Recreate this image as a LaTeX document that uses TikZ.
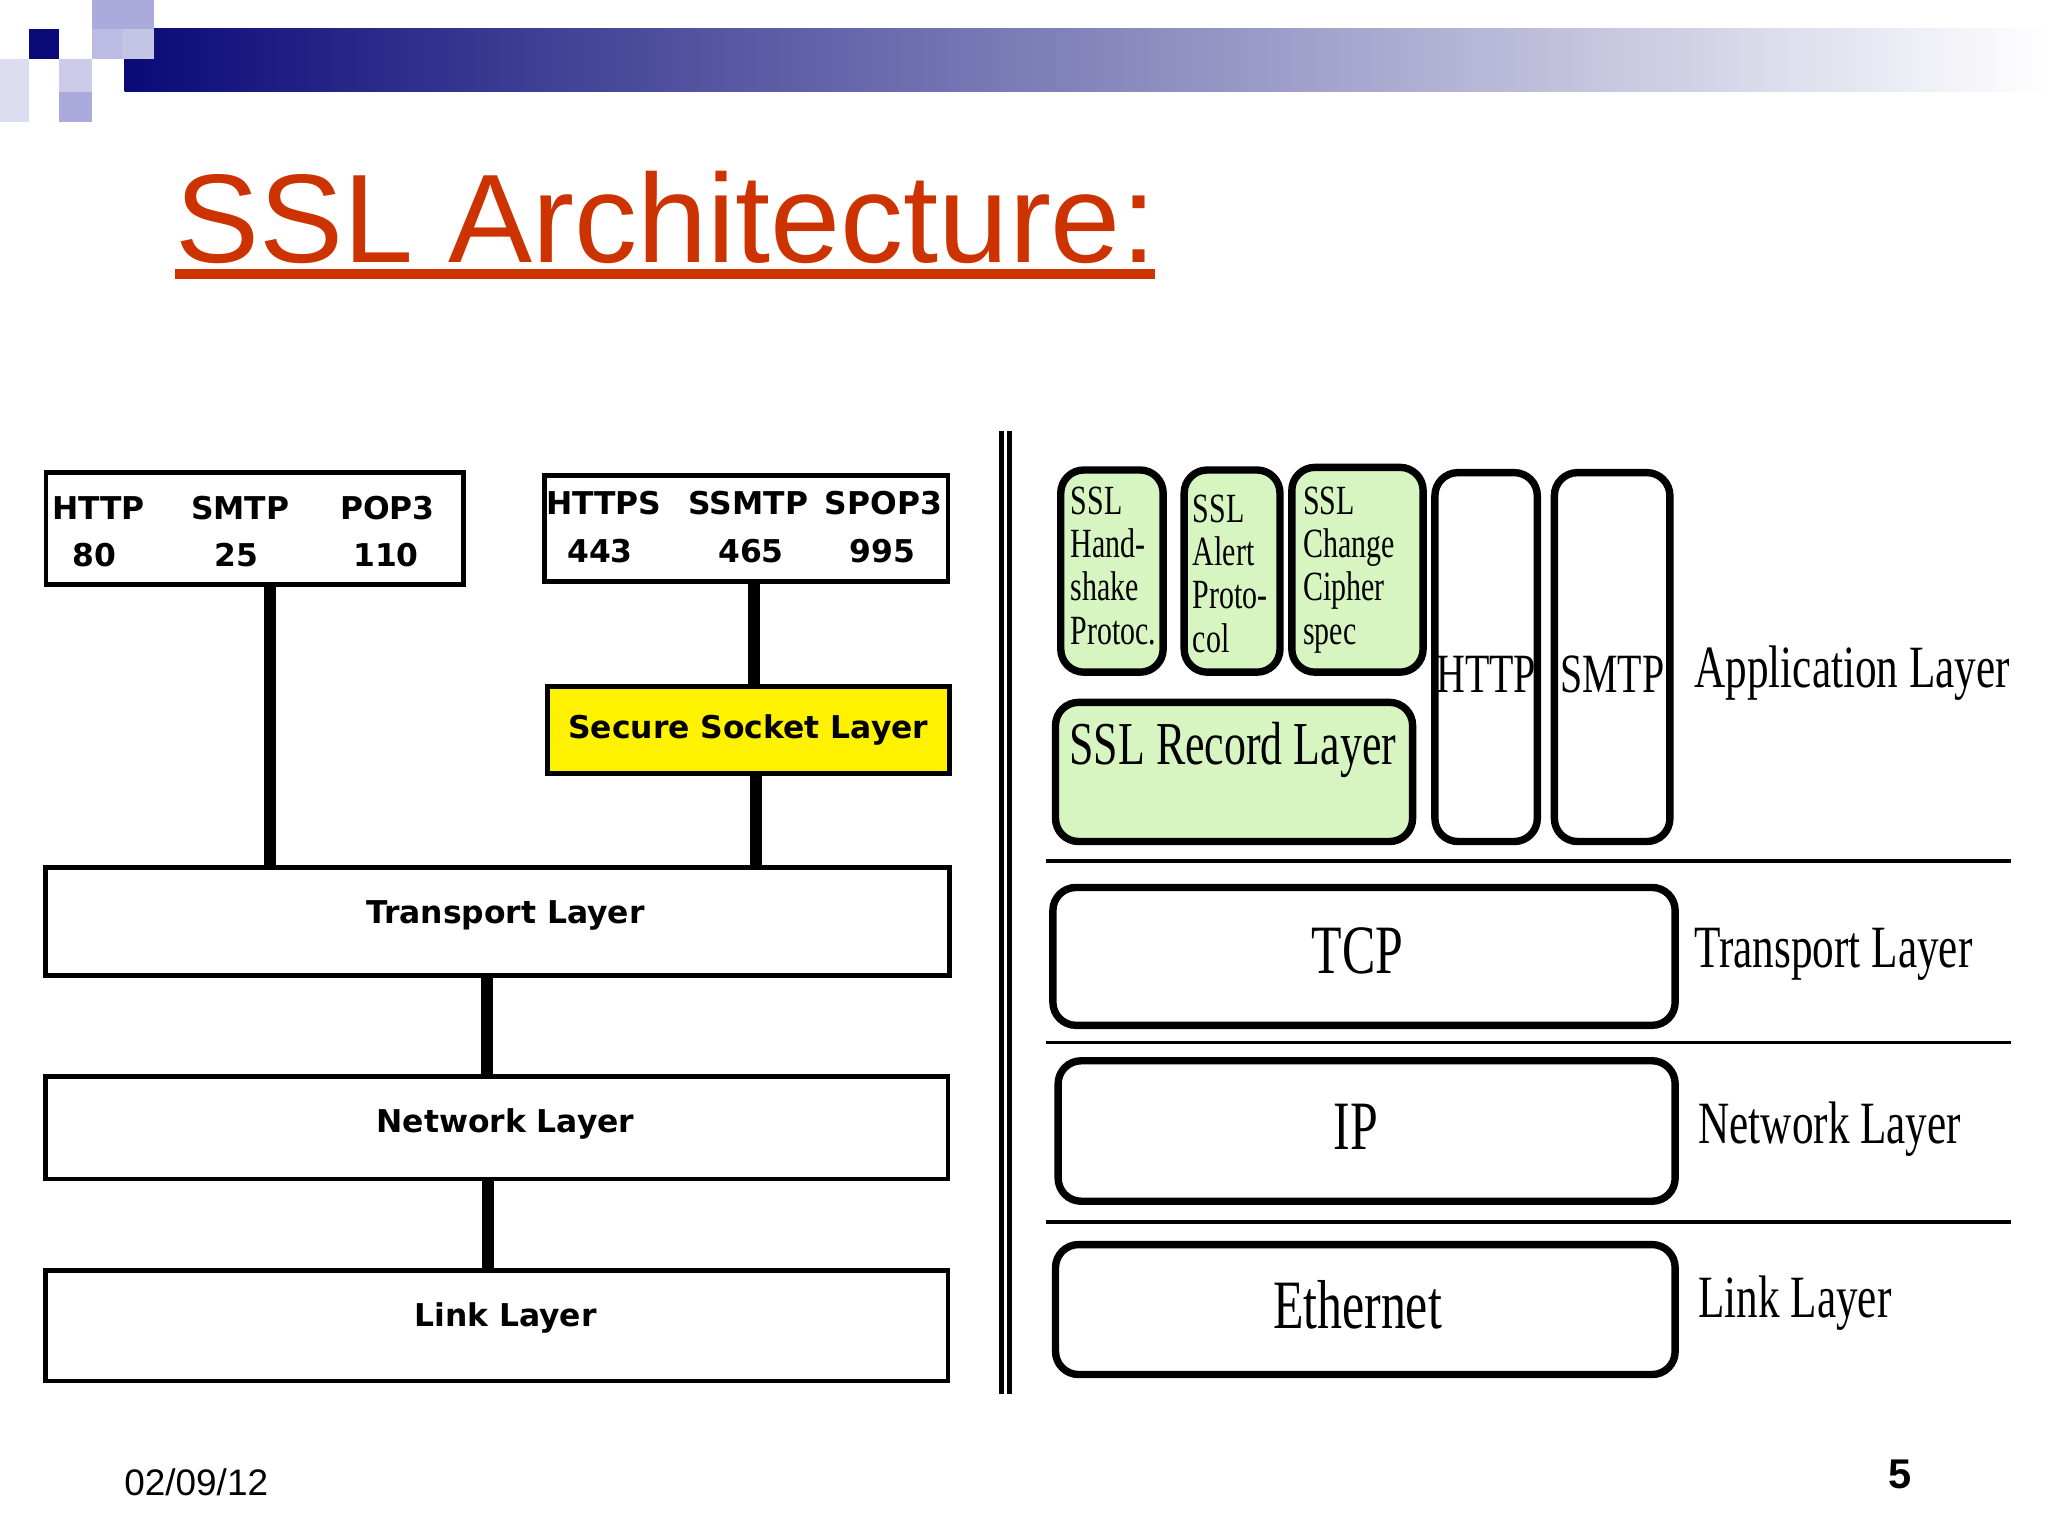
\documentclass[tikz,border=0pt]{standalone}
\usepackage{fontspec}
\setmainfont{Liberation Sans}
\newfontfamily\vfont{DejaVu Sans}
\newfontfamily\cond{Liberation Serif}[FakeStretch=0.72]
\definecolor{hdr}{RGB}{10,10,120}
\definecolor{lav}{RGB}{170,170,220}
\definecolor{ttl}{RGB}{204,51,0}
\definecolor{grn}{RGB}{214,245,192}
\begin{document}
\begin{tikzpicture}[x=0.01cm,y=-0.01cm,
  lbox/.style={draw,line width=1pt,inner sep=0pt},
  lt/.style={font=\vfont\bfseries\fontsize{6.8}{8}\selectfont},
  con/.style={line width=2.6pt},
  rbox/.style={draw,line width=1.6pt,rounded corners=5pt},
  gt/.style={font=\cond\fontsize{9}{9.4}\selectfont,align=left,anchor=north west,inner sep=0pt},
  big/.style={font=\cond\fontsize{12}{14}\selectfont},
  huge/.style={font=\cond\fontsize{15}{18}\selectfont},
  bigl/.style={font=\cond\fontsize{13}{16}\selectfont,anchor=west,inner sep=0pt}]
\useasboundingbox (0,0) rectangle (1560,1170);
\fill[white] (0,0) rectangle (1560,1170);
% header
\shade[left color=hdr,right color=white] (95,22) rectangle (1560,70);
\fill[hdr] (22,22) rectangle (45,45);
\fill[lav] (70,0) rectangle (117,22);
\fill[lav!70] (93,22) rectangle (117,45);
\fill[lav!60] (45,45) rectangle (70,70);
\fill[lav] (45,70) rectangle (70,93);
\fill[lav!40] (0,45) rectangle (22,93);
\fill[lav!80] (70,22) rectangle (93,45);
% title
\node[anchor=base west,inner sep=0pt,text=ttl,font=\fontsize{27.3}{32}\selectfont] (title) at (133,200) {SSL Architecture:};
\draw[ttl,line width=2.2pt] (133,209) -- (880,209);
% left
\node[lbox,minimum width=3.18cm,minimum height=0.85cm] (b1) at (194,402.5) {};
\node[lt] (h1) at (75,387) {HTTP}; \node[lt] (h1n) at (72,423) {80};
\node[lt] (s1) at (183,387) {SMTP}; \node[lt] (s1n) at (180,423) {25};
\node[lt] (p1) at (295,387) {POP3}; \node[lt] (p1n) at (294,423) {110};
\node[lbox,minimum width=3.07cm,minimum height=0.81cm] (b2) at (568.5,402.5) {};
\node[lt] (h2) at (460,383) {HTTPS}; \node[lt] (h2n) at (457,420) {443};
\node[lt] (s2) at (570,383) {SSMTP}; \node[lt] (s2n) at (572,420) {465};
\node[lt] (p2) at (673,383) {SPOP3}; \node[lt] (p2n) at (672,420) {995};
\node[lbox,fill=yellow,minimum width=3.06cm,minimum height=0.66cm,lt] (ssl) at (570,556) {Secure Socket Layer};
\node[lbox,minimum width=6.88cm,minimum height=0.82cm] (tl) at (379,702) {};
\node[lt] (tlt) at (385,697) {Transport Layer};
\node[lbox,minimum width=6.87cm,minimum height=0.78cm] (nl) at (378.5,859) {};
\node[lt] (nlt) at (385,856) {Network Layer};
\node[lbox,minimum width=6.87cm,minimum height=0.84cm] (ll) at (378.5,1010) {};
\node[lt] (llt) at (385,1004) {Link Layer};
\draw[con] (206,445) -- (206,661);
\draw[con] (574,443) -- (574,523);
\draw[con] (576,589) -- (576,661);
\draw[con] (371,743) -- (371,820);
\draw[con] (372,898) -- (372,968);
% divider
\draw[line width=1.2pt] (763,328) -- (763,1062);
\draw[line width=1.2pt] (769,328) -- (769,1062);
% right
\draw[rbox,fill=grn] (808,358) rectangle (886,512);
\node[gt] (g1) at (815,370) {SSL\\Hand-\\shake\\Protoc.};
\draw[rbox,fill=grn] (902,358) rectangle (975,512);
\node[gt] (g2) at (908,376) {SSL\\Alert\\Proto-\\col};
\draw[rbox,fill=grn] (984,356) rectangle (1084,512);
\node[gt] (g3) at (992,370) {SSL\\Change\\Cipher\\spec};
\draw[rbox] (1093,360) rectangle (1171,641);
\node[big] (http) at (1132,514) {HTTP};
\draw[rbox] (1184,360) rectangle (1272,641);
\node[big] (smtp) at (1228,514) {SMTP};
\draw[rbox,fill=grn] (804,535) rectangle (1076,641);
\node[font=\cond\fontsize{13.2}{16}\selectfont,anchor=west,inner sep=0pt] (rec) at (814,571) {SSL Record Layer};
\draw[line width=0.8pt] (797,656) -- (1532,656);
\draw[line width=0.8pt] (797,794) -- (1532,794);
\draw[line width=0.8pt] (797,931) -- (1532,931);
\draw[rbox] (802,676) rectangle (1276,781);
\node[huge] (tcp) at (1034,724) {TCP};
\draw[rbox] (806,808) rectangle (1276,915);
\node[huge] (ip) at (1033,858) {IP};
\draw[rbox] (804,948) rectangle (1276,1047);
\node[huge] (eth) at (1034,994) {Ethernet};
\node[bigl] (al) at (1290,513) {Application Layer};
\node[bigl] (tr) at (1290,727) {Transport Layer};
\node[bigl] (nw) at (1293,860) {Network Layer};
\node[bigl] (lk) at (1293,993) {Link Layer};
% footer
\node[anchor=west,inner sep=0pt,font=\fontsize{8}{10}\selectfont] (date) at (94,1129) {02/09/12};
\node[inner sep=0pt,font=\bfseries\fontsize{9}{10}\selectfont] (pg) at (1447,1123) {5};
\end{tikzpicture}
\end{document}
